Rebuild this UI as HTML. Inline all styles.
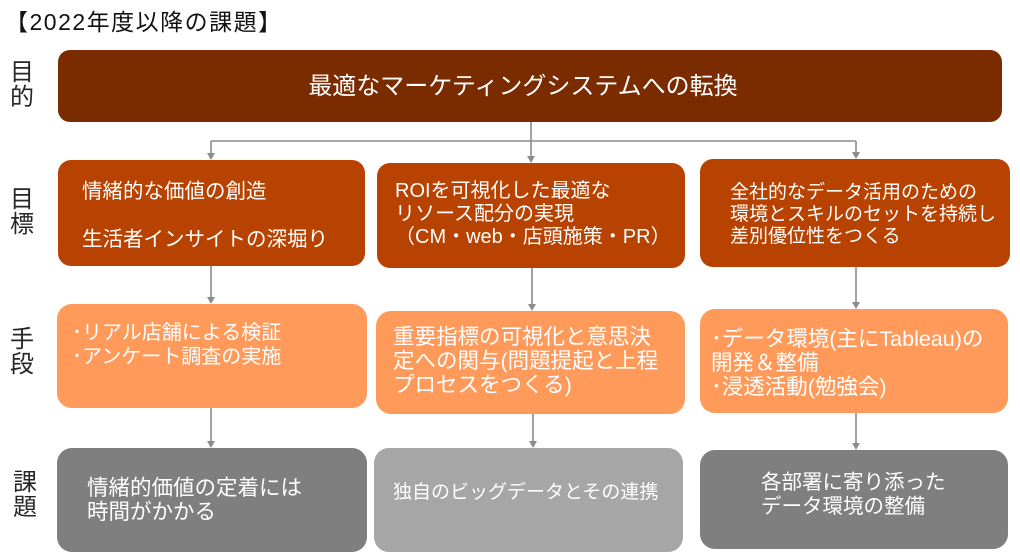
<!DOCTYPE html>
<html><head><meta charset="utf-8">
<style>
html,body{margin:0;padding:0;background:#fff;}
body{width:1020px;height:554px;position:relative;overflow:hidden;font-family:"Liberation Sans","Noto Sans CJK JP",sans-serif;}
.box{position:absolute;}
.t{position:absolute;color:#fff;white-space:nowrap;}
.lbl{position:absolute;font-size:24px;line-height:25px;color:#262626;width:28px;}
</style></head><body>
<div style="position:absolute;left:5px;top:9px;font-size:23px;line-height:26px;color:#111;letter-spacing:1.5px;white-space:nowrap;">【2022年度以降の課題】</div>

<div class="lbl" style="left:10px;top:60px;">目<br>的</div>
<div class="lbl" style="left:10px;top:187px;">目<br>標</div>
<div class="lbl" style="left:10px;top:327px;">手<br>段</div>
<div class="lbl" style="left:13px;top:470px;">課<br>題</div>

<!-- top box -->
<div class="box" style="left:58px;top:50px;width:944px;height:72px;border-radius:12px;background:#7A2C00;"></div>
<div class="t" style="left:58px;top:73px;width:930px;text-align:center;font-size:24px;line-height:28px;">最適なマーケティングシステムへの転換</div>

<!-- row 2 -->
<div class="box" style="left:58px;top:160px;width:307px;height:106px;border-radius:13px;background:#B84200;"></div>
<div class="box" style="left:377px;top:163px;width:308px;height:105px;border-radius:13px;background:#B84200;"></div>
<div class="box" style="left:700px;top:159px;width:310px;height:108px;border-radius:13px;background:#B84200;"></div>
<div class="t" style="left:82px;top:180px;font-size:20.5px;line-height:24px;">情緒的な価値の創造<br><br>生活者インサイトの深堀り</div>
<div class="t" style="left:395px;top:180px;font-size:20px;line-height:23px;">ROIを可視化した最適な<br>リソース配分の実現<br>（CM・web・店頭施策・PR）</div>
<div class="t" style="left:730px;top:182px;font-size:19px;line-height:22px;">全社的なデータ活用のための<br>環境とスキルのセットを持続し<br>差別優位性をつくる</div>

<!-- row 3 -->
<div class="box" style="left:57px;top:304px;width:310px;height:104px;border-radius:15px;background:#FF9A5B;"></div>
<div class="box" style="left:376px;top:311px;width:309px;height:103px;border-radius:15px;background:#FF9A5B;"></div>
<div class="box" style="left:700px;top:309px;width:308px;height:104px;border-radius:15px;background:#FF9A5B;"></div>
<div class="t" style="left:72px;top:321px;font-size:20px;line-height:24px;">･リアル店舗による検証<br>･アンケート調査の実施</div>
<div class="t" style="left:393px;top:325px;font-size:21.5px;line-height:24px;">重要指標の可視化と意思決<br>定への関与(問題提起と上程<br>プロセスをつくる)</div>
<div class="t" style="left:711px;top:327px;font-size:21.5px;line-height:24px;">･データ環境(主にTableau)の<br>開発＆整備<br>･浸透活動(勉強会)</div>

<!-- row 4 -->
<div class="box" style="left:57px;top:448px;width:310px;height:104px;border-radius:15px;background:#7F7F7F;"></div>
<div class="box" style="left:374px;top:448px;width:309px;height:104px;border-radius:15px;background:#A6A6A6;"></div>
<div class="box" style="left:700px;top:450px;width:308px;height:99px;border-radius:15px;background:#7F7F7F;"></div>
<div class="t" style="left:87px;top:476px;font-size:21.5px;line-height:24px;">情緒的価値の定着には<br>時間がかかる</div>
<div class="t" style="left:393px;top:481px;font-size:19px;line-height:24px;">独自のビッグデータとその連携</div>
<div class="t" style="left:761px;top:471px;font-size:20.5px;line-height:24px;">各部署に寄り添った<br>データ環境の整備</div>

<svg width="1020" height="554" style="position:absolute;left:0;top:0;" xmlns="http://www.w3.org/2000/svg">
<g stroke="#8C8C8C" stroke-width="1.6" fill="none">
<path d="M531 122 V141 M211 141 H856 M211 141 V154 M531 141 V157 M856 141 V153"/>
<path d="M211 266 V298 M532 268 V305 M856 267 V303"/>
<path d="M211 408 V442 M533 414 V442 M856 413 V444"/>
</g>
<g fill="#8C8C8C">
<polygon points="207,153 215,153 211,160"/>
<polygon points="527,156 535,156 531,163"/>
<polygon points="852,152 860,152 856,159"/>
<polygon points="207,297 215,297 211,304"/>
<polygon points="528,304 536,304 532,311"/>
<polygon points="852,302 860,302 856,309"/>
<polygon points="207,441 215,441 211,448"/>
<polygon points="529,441 537,441 533,448"/>
<polygon points="852,443 860,443 856,450"/>
</g>
</svg>
</body></html>
